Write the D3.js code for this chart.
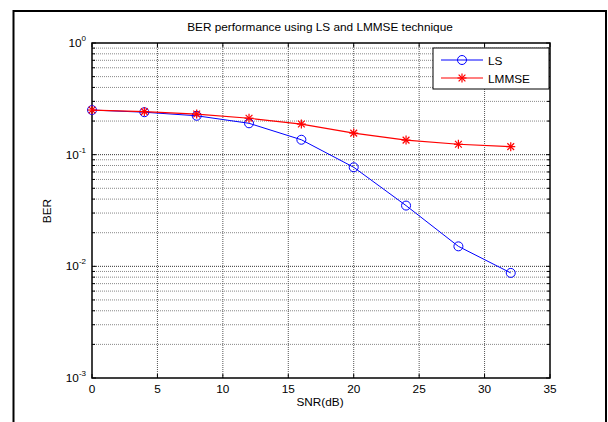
<!DOCTYPE html>
<html>
<head>
<meta charset="utf-8">
<script src="https://cdn.jsdelivr.net/npm/d3@7"></script>
<style>
  html, body { margin: 0; padding: 0; background: #fff; }
  svg { display: block; font-family: "Liberation Sans", Arial, sans-serif; }
</style>
</head>
<body>
<svg id="chart" width="608" height="422"></svg>
<script>
// SNR sweep (dB) and measured bit error rates
const snr = [0, 4, 8, 12, 16, 20, 24, 28, 32];
const berLS = [0.251, 0.240, 0.223, 0.191, 0.136, 0.0771, 0.0350, 0.0151, 0.00873];
const berLMMSE = [0.251, 0.243, 0.231, 0.212, 0.188, 0.156, 0.135, 0.124, 0.118];
const xTicks = [0, 5, 10, 15, 20, 25, 30, 35];
const yDecades = [0, -1, -2, -3];

const svg = d3.select("#chart");
const W = 608, H = 422;
const m = { left: 92, top: 43, right: 550, bottom: 378 };
const fs = 11.8;

// figure frame
svg.append("rect").attr("x", 0).attr("y", 0).attr("width", W).attr("height", H).attr("fill", "#fff");
svg.append("path")
  .attr("d", `M13.5,${H + 5} L13.5,11 L606,11 L606,${H + 5}`)
  .attr("fill", "none").attr("stroke", "#000").attr("stroke-width", 2);

const x = d3.scaleLinear().domain([0, 35]).range([m.left, m.right]);
const y = d3.scaleLog().domain([1e-3, 1]).range([m.bottom, m.top]);

const g = svg.append("g");

// grid: minor log lines, major decade lines, vertical lines
const minor = [];
for (let e = -3; e < 0; e++) for (let k = 2; k <= 9; k++) minor.push(k * Math.pow(10, e));
g.selectAll(".gminor").data(minor).enter().append("line")
  .attr("x1", m.left).attr("x2", m.right)
  .attr("y1", d => y(d)).attr("y2", d => y(d))
  .attr("stroke", "#888").attr("stroke-width", 1).attr("stroke-dasharray", "1,1");
g.selectAll(".gmajor").data(yDecades.slice(1, 3)).enter().append("line")
  .attr("x1", m.left).attr("x2", m.right)
  .attr("y1", d => y(Math.pow(10, d))).attr("y2", d => y(Math.pow(10, d)))
  .attr("stroke", "#333").attr("stroke-width", 1).attr("stroke-dasharray", "1,1");
g.selectAll(".gx").data(xTicks.slice(1, -1)).enter().append("line")
  .attr("x1", d => x(d)).attr("x2", d => x(d))
  .attr("y1", m.top).attr("y2", m.bottom)
  .attr("stroke", "#555").attr("stroke-width", 1).attr("stroke-dasharray", "1,1");

// inward ticks on all four sides
const tl = 4;
xTicks.forEach(t => {
  g.append("line").attr("x1", x(t)).attr("x2", x(t)).attr("y1", m.bottom).attr("y2", m.bottom - tl).attr("stroke", "#000");
  g.append("line").attr("x1", x(t)).attr("x2", x(t)).attr("y1", m.top).attr("y2", m.top + tl).attr("stroke", "#000");
});
minor.concat(yDecades.map(d => Math.pow(10, d))).forEach(v => {
  const len = Number.isInteger(Math.log10(v)) ? tl : 3;
  g.append("line").attr("x1", m.left).attr("x2", m.left + len).attr("y1", y(v)).attr("y2", y(v)).attr("stroke", "#000");
  g.append("line").attr("x1", m.right).attr("x2", m.right - len).attr("y1", y(v)).attr("y2", y(v)).attr("stroke", "#000");
});

// axes box
g.append("rect").attr("x", m.left).attr("y", m.top)
  .attr("width", m.right - m.left).attr("height", m.bottom - m.top)
  .attr("fill", "none").attr("stroke", "#000").attr("stroke-width", 1.5);

// x tick labels
g.selectAll(".xl").data(xTicks).enter().append("text")
  .attr("x", d => x(d)).attr("y", m.bottom + 15)
  .attr("text-anchor", "middle").attr("font-size", fs).attr("fill", "#000")
  .text(d => d);

// y tick labels 10^n
yDecades.forEach(e => {
  const t = g.append("text").attr("x", m.left - 6).attr("y", y(Math.pow(10, e)) + 4)
    .attr("text-anchor", "end").attr("font-size", fs).attr("fill", "#000");
  t.append("tspan").text("10");
  t.append("tspan").attr("dy", -6).attr("font-size", 8).text(e);
});

// titles
svg.append("text").attr("x", 320).attr("y", 31).attr("text-anchor", "middle")
  .attr("font-size", fs).text("BER performance using LS and LMMSE technique");
svg.append("text").attr("x", 320).attr("y", 406).attr("text-anchor", "middle")
  .attr("font-size", fs).text("SNR(dB)");
svg.append("text").attr("transform", "translate(51,211) rotate(-90)").attr("text-anchor", "middle")
  .attr("font-size", fs).text("BER");

// series
const line = d3.line().x(d => x(d[0])).y(d => y(d[1]));
const ls = snr.map((s, i) => [s, berLS[i]]);
const lm = snr.map((s, i) => [s, berLMMSE[i]]);

function star(sel, cx, cy, r, color) {
  const gg = sel.append("g").attr("transform", `translate(${cx},${cy})`).attr("stroke", color).attr("stroke-width", 1.2);
  gg.append("line").attr("x1", -r).attr("x2", r).attr("y1", 0).attr("y2", 0);
  gg.append("line").attr("x1", 0).attr("x2", 0).attr("y1", -r).attr("y2", r);
  const d = r * 0.75;
  gg.append("line").attr("x1", -d).attr("x2", d).attr("y1", -d).attr("y2", d);
  gg.append("line").attr("x1", -d).attr("x2", d).attr("y1", d).attr("y2", -d);
}

g.append("path").datum(ls).attr("d", line).attr("fill", "none").attr("stroke", "#0000ff").attr("stroke-width", 1);
ls.forEach(p => g.append("circle").attr("cx", x(p[0])).attr("cy", y(p[1])).attr("r", 4.5)
  .attr("fill", "none").attr("stroke", "#0000ff").attr("stroke-width", 1));
g.append("path").datum(lm).attr("d", line).attr("fill", "none").attr("stroke", "#ff0000").attr("stroke-width", 1.2);
lm.forEach(p => star(g, x(p[0]), y(p[1]), 4.5, "#ff0000"));

// legend
const lg = svg.append("g");
lg.append("rect").attr("x", 433).attr("y", 48).attr("width", 116).attr("height", 41)
  .attr("fill", "#fff").attr("stroke", "#000").attr("stroke-width", 1);
lg.append("line").attr("x1", 441).attr("x2", 483).attr("y1", 60).attr("y2", 60).attr("stroke", "#0000ff");
lg.append("circle").attr("cx", 462).attr("cy", 60).attr("r", 4.5).attr("fill", "none").attr("stroke", "#0000ff");
lg.append("text").attr("x", 488).attr("y", 64.5).attr("font-size", fs).text("LS");
lg.append("line").attr("x1", 441).attr("x2", 483).attr("y1", 78).attr("y2", 78).attr("stroke", "#ff0000").attr("stroke-width", 1.2);
star(lg, 462, 78, 4.5, "#ff0000");
lg.append("text").attr("x", 488).attr("y", 82.5).attr("font-size", fs).text("LMMSE");
</script>
</body>
</html>
